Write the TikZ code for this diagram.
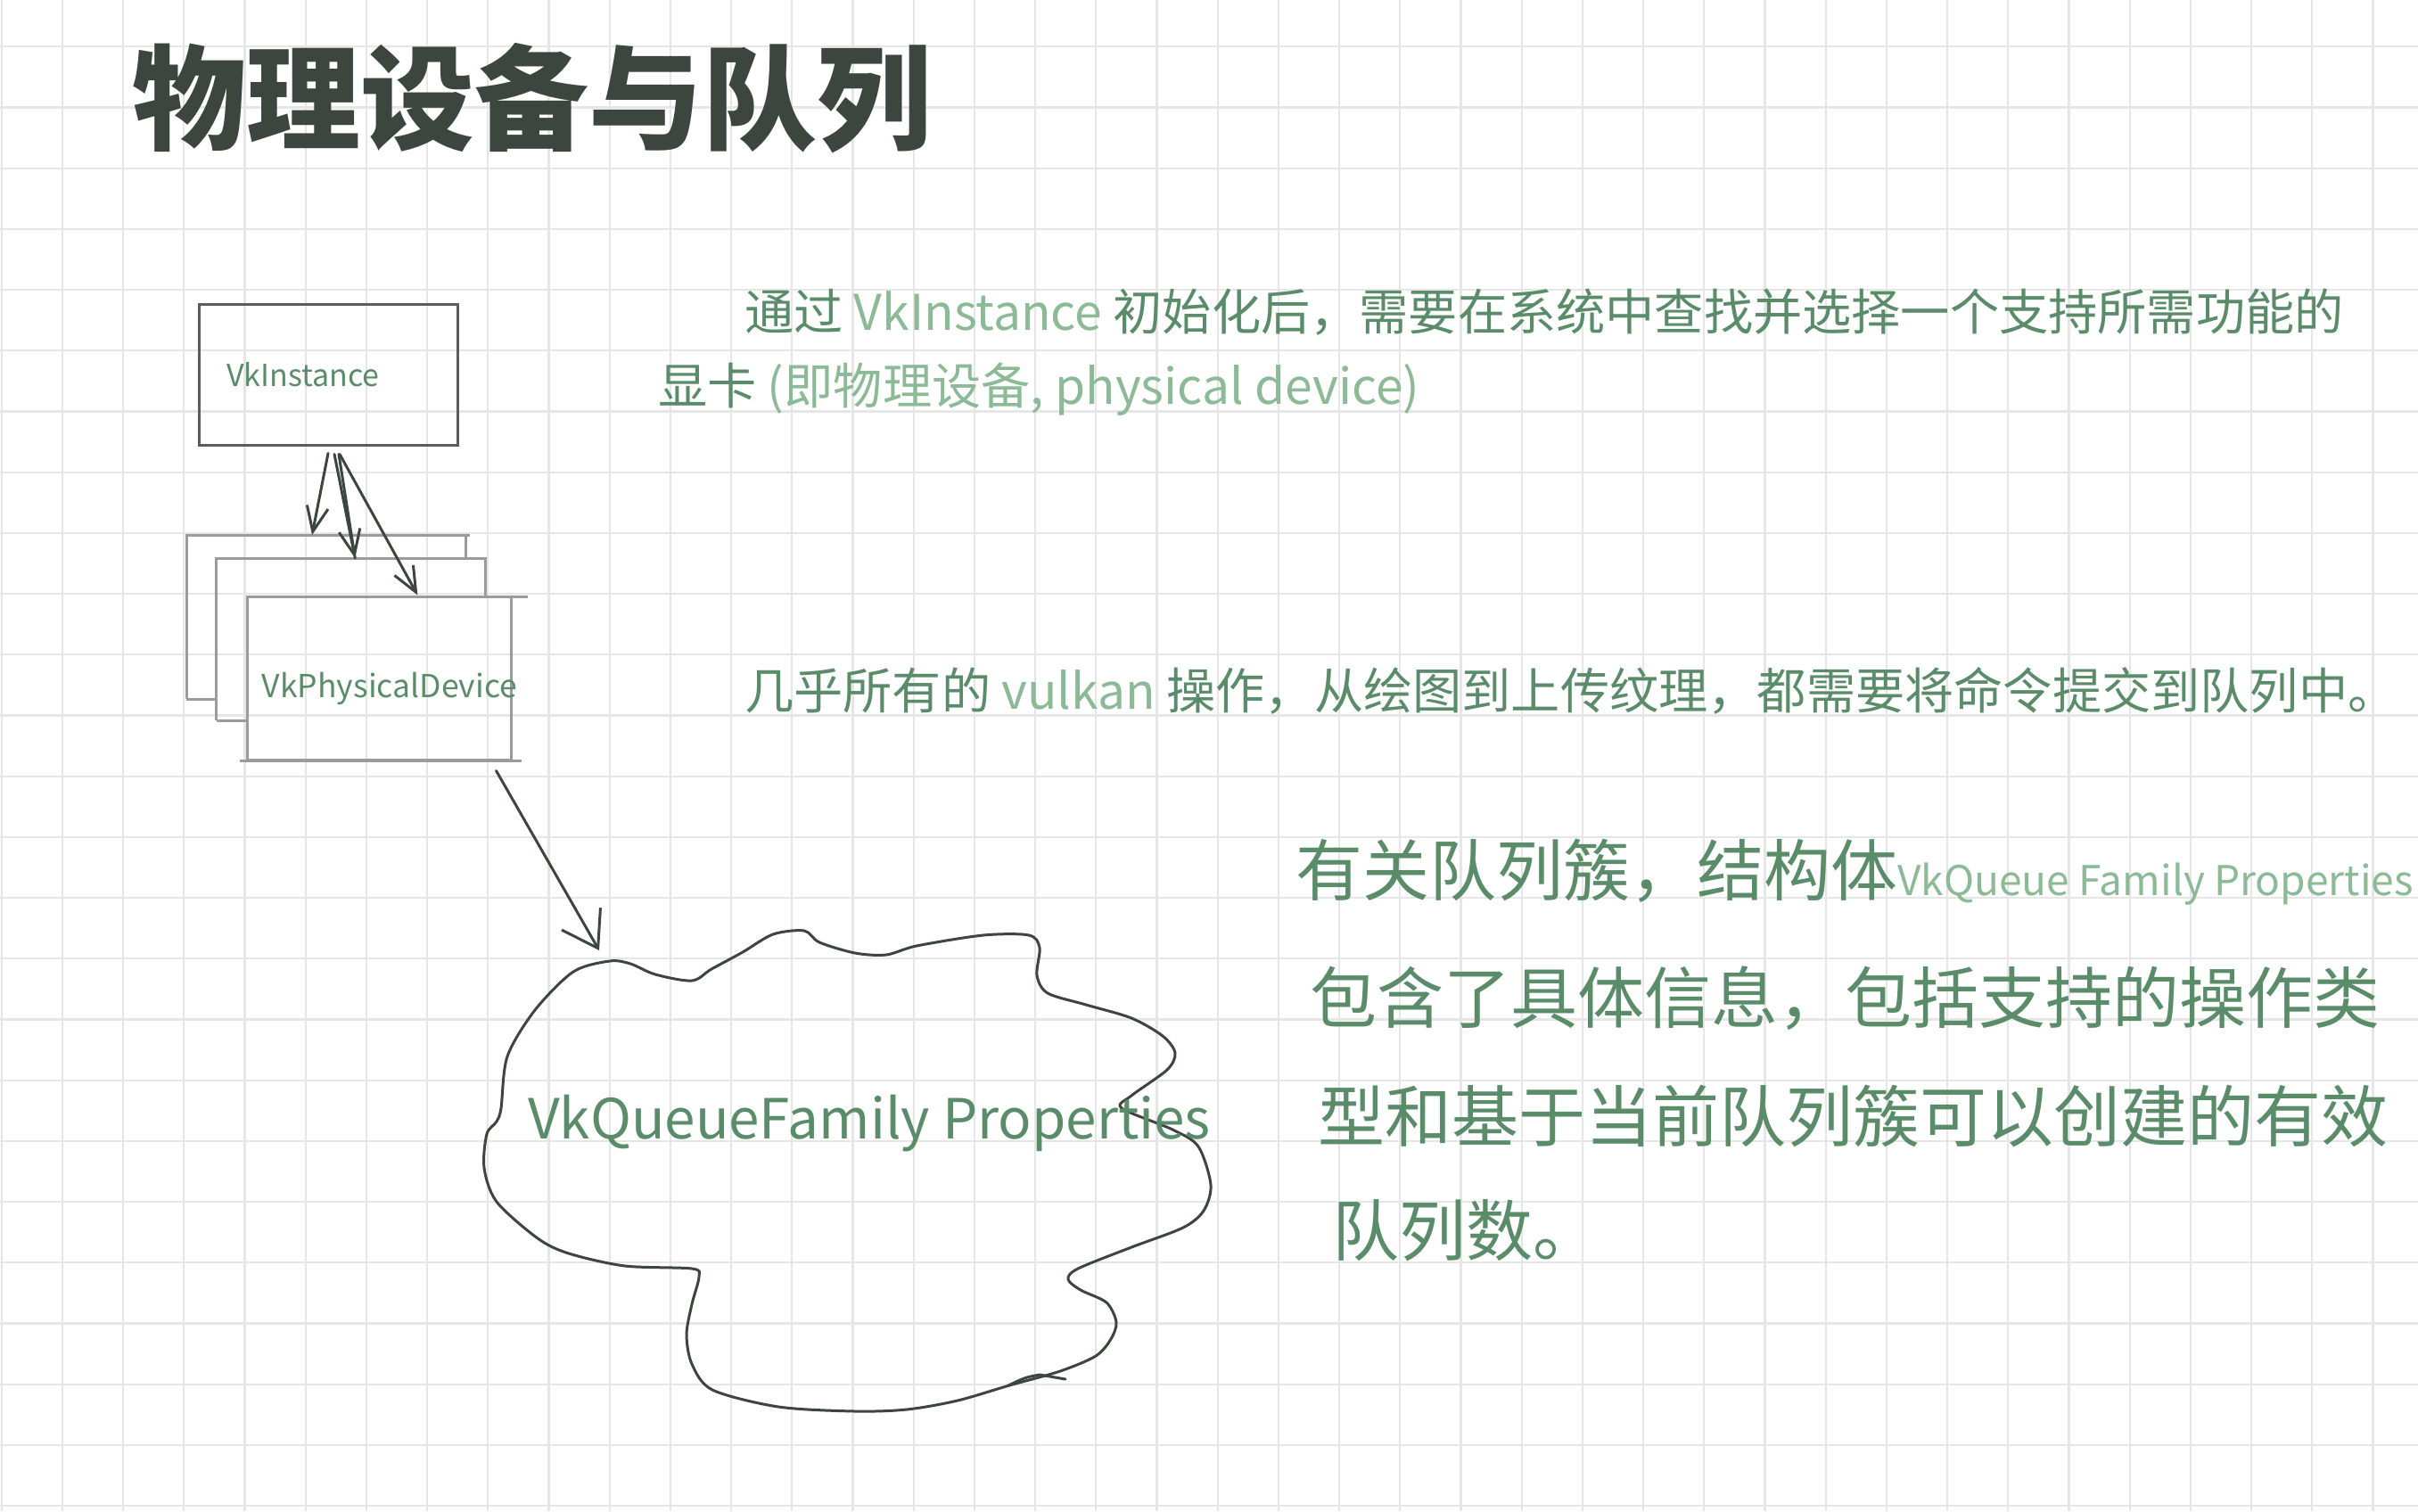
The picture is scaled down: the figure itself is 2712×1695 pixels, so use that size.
\documentclass[tikz,border=0pt]{standalone}
\usepackage{fontspec}
\setmainfont{Noto Sans CJK SC}
\usetikzlibrary{arrows.meta, calc}

\definecolor{gridgray}{RGB}{230,230,230}
\definecolor{inkdark}{RGB}{60,70,62}
\definecolor{boxdark}{RGB}{92,92,92}
\definecolor{boxlight}{RGB}{155,155,155}
\definecolor{notegreen}{RGB}{90,140,106}
\definecolor{notelight}{RGB}{140,186,150}

\begin{document}
\begin{tikzpicture}[x=1pt, y=-1pt,
  gridline/.style={gridgray, line width=2.3pt},
  pen/.style={inkdark, line width=3pt, line cap=round, line join=round},
  penhead/.style={pen, -{Straight Barb[length=28pt, width=24pt]}},
  bighead/.style={pen, -{Straight Barb[length=38pt, width=50pt]}},
  backpen/.style={boxlight, line width=3pt},
  frame/.style={draw=none, inner sep=0pt, outer sep=0pt},
  titletext/.style={inkdark, inner sep=0pt, anchor=west, font=\fontsize{128}{135}\selectfont\bfseries},
  introtext/.style={notegreen, inner sep=0pt, anchor=west, font=\fontsize{55.2}{60}\selectfont},
  qtext/.style={notegreen, inner sep=0pt, anchor=west, font=\fontsize{75}{80}\selectfont},
  labeltext/.style={notegreen, inner sep=0pt}
]
  \fill[white] (0,0) rectangle (2712,1695);
  \useasboundingbox (0,0) rectangle (2712,1695);

  % squared paper
  \foreach \i in {0,...,39}
    \draw[gridline] ({1.7+68.2*\i},0) -- ({1.7+68.2*\i},1695);
  \foreach \j in {0,...,24}
    \draw[gridline] (0,{52.3+68.2*\j}) -- (2712,{52.3+68.2*\j});

  \node[titletext] (title) at (148,110) {物理设备与队列};

  % instance and physical devices
  \node[draw=boxdark, line width=3pt, inner sep=0pt, minimum width=290pt, minimum height=158pt] (inst) at (368,420) {};
  \node[labeltext, font=\fontsize{34}{38}\selectfont] (instname) at ($(inst.center)+(-28,0)$) {VkInstance};

  \node[frame, minimum width=313pt, minimum height=184pt] (devA) at (365.7,692) {};
  \node[frame, minimum width=302pt, minimum height=182pt] (devB) at (393.7,717) {};
  \node[draw=boxlight, line width=3pt, inner sep=0pt, minimum width=296pt, minimum height=183pt] (devC) at (425,760.5) {};
  \node[labeltext, font=\fontsize{35.5}{40}\selectfont] (devname) at ($(devC.center)+(12,12)$) {VkPhysicalDevice};

  \draw[backpen] (devA.south west) -- (devA.north west) -- ($(devA.north east)+(5,0)$);
  \draw[backpen] (devA.north east) -- (devA.north east |- devB.north);
  \draw[backpen] (devA.south west) -- (devA.south west -| devB.west);
  \draw[backpen] (devB.south west) -- (devB.north west) -- (devB.north east) -- (devB.north east |- devC.north);
  \draw[backpen] (devB.south west) -- (devB.south west -| devC.west);
  \draw[backpen] ($(devC.north east)+(-68,2)$) -- ($(devC.north east)+(17,2)$);
  \draw[backpen] ($(devC.south west)+(-7,0)$) -- ($(devC.south east)+(10,0)$);

  \draw[penhead] ($(inst.south)+(0,8)$) -- ($(devA.north west)!0.45!(devA.north east)$);
  \draw[penhead] ($(inst.south)+(7,9)$) -- ($(devB.north west)!0.515!(devB.north east)$);
  \draw[pen] ($(inst.south)+(12,9)$) -- ($(devB.north west)!0.515!(devB.north east)$);
  \draw[penhead] ($(inst.south)+(13,9)$) -- ($(devC.north west)!0.645!(devC.north east)$);

  % queue family cloud
  \coordinate (qtail) at ($(devC.south east)+(-18,11)$);
  \coordinate (qhead) at (672,1066);
  \draw[bighead] (qtail) -- (qhead);
  \draw[pen] plot[smooth cycle, tension=0.5] coordinates {
    (562,1243) (569,1185) (600,1133) (643,1090) (684,1078) (707,1081)
    (735,1093) (776,1100) (798,1087) (833,1068) (867,1048) (902,1044)
    (919,1057) (959,1069) (994,1071) (1028,1061) (1103,1049) (1154,1049)
    (1166,1063) (1163,1094) (1175,1114) (1218,1127) (1269,1142) (1304,1162)
    (1318,1181) (1309,1200) (1269,1229) (1258,1243) (1315,1267) (1344,1286)
    (1358,1329) (1350,1358) (1327,1377) (1269,1399) (1209,1423) (1198,1435)
    (1212,1447) (1241,1461) (1252,1483) (1246,1502) (1229,1521) (1189,1538)
    (1132,1554) (1074,1571) (1017,1581) (959,1583) (873,1578) (799,1559)
    (776,1530) (770,1497) (776,1463) (784,1432) (776,1423) (701,1420)
    (638,1406) (603,1389) (557,1348) (543,1310) (546,1272) (557,1258)};
  \draw[pen] (1131,1554) .. controls (1150,1545) .. (1166,1542) -- (1195,1547);
  \node[labeltext, font=\fontsize{62}{66}\selectfont] (qfam) at (975,1260) {VkQueueFamily Properties};

  % notes
  \node[introtext] (introa) at (835,350) {通过 \textcolor{notelight}{VkInstance} 初始化后，需要在系统中查找并选择一个支持所需功能的};
  \node[introtext] (introb) at (738,437) {显卡 \textcolor{notelight}{(即物理设备, physical device)}};
  \node[introtext] (queues) at (835,775) {几乎所有的 \textcolor{notelight}{vulkan} 操作，从绘图到上传纹理，都需要将命令提交到队列中。};
  \node[qtext] (qinfoa) at (1453,978) {有关队列簇，结构体{\fontsize{46}{50}\selectfont\color{notelight}VkQueue Family Properties}};
  \node[qtext] (qinfob) at (1469,1120) {包含了具体信息，包括支持的操作类};
  \node[qtext] (qinfoc) at (1478,1252) {型和基于当前队列簇可以创建的有效};
  \node[qtext] (qinfod) at (1494,1380) {队列数。};
\end{tikzpicture}
\end{document}
